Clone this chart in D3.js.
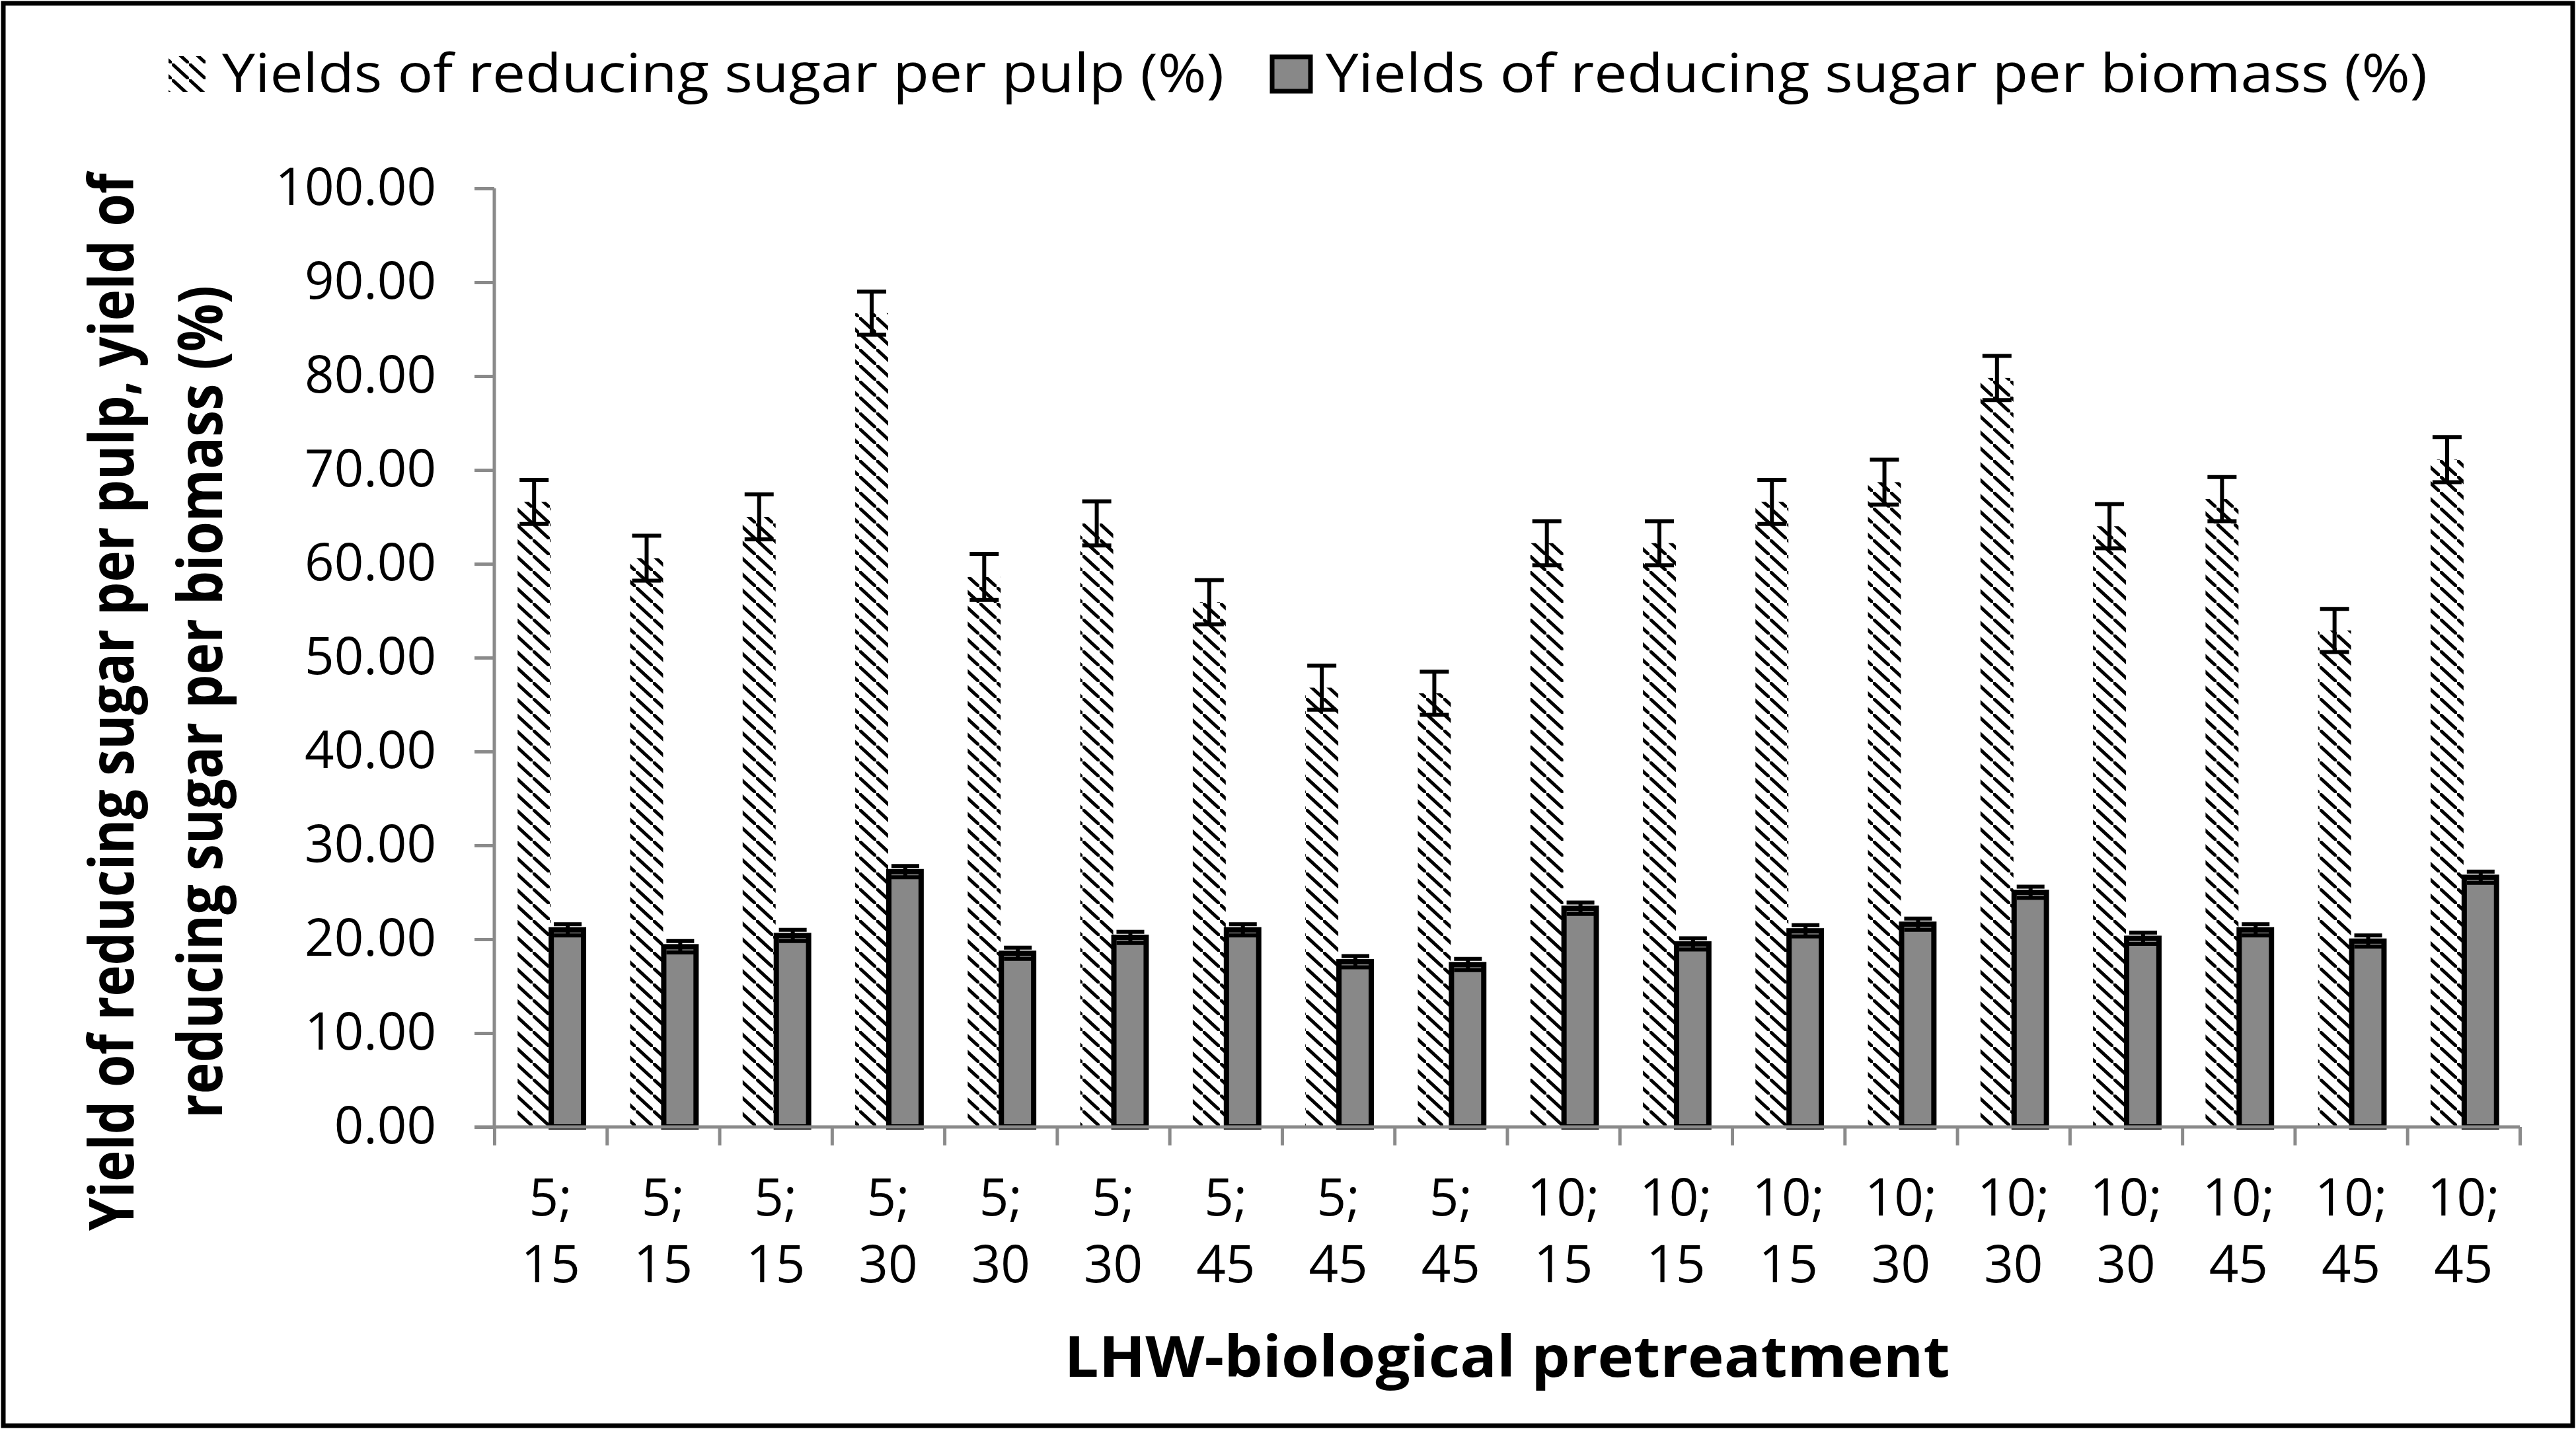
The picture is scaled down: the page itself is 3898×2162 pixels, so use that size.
<!DOCTYPE html>
<html>
<head>
<meta charset="utf-8">
<script src="https://cdn.jsdelivr.net/npm/d3@7"></script>
<style>
  html, body { margin: 0; padding: 0; background: #fff; }
  svg { display: block; }
</style>
</head>
<body>
<script>
// ---------------- data ----------------
const categories = ["5; 15","5; 15","5; 15","5; 30","5; 30","5; 30","5; 45","5; 45","5; 45",
                    "10; 15","10; 15","10; 15","10; 30","10; 30","10; 30","10; 45","10; 45","10; 45"];
const pulpYield    = [66.6, 60.6, 65.0, 86.7, 58.6, 64.3, 55.9, 46.8, 46.2, 62.2, 62.2, 66.6, 68.7, 79.8, 64.0, 66.9, 52.9, 71.1];
const pulpErr      = [2.35, 2.4, 2.4, 2.3, 2.45, 2.35, 2.35, 2.35, 2.3, 2.35, 2.35, 2.35, 2.4, 2.35, 2.35, 2.35, 2.3, 2.4];
const biomassYield = [21.0, 19.2, 20.4, 27.2, 18.5, 20.2, 21.0, 17.6, 17.3, 23.3, 19.5, 20.9, 21.6, 25.0, 20.1, 21.0, 19.8, 26.6];
const biomassErr   = [0.6, 0.6, 0.6, 0.6, 0.6, 0.6, 0.6, 0.6, 0.6, 0.6, 0.6, 0.6, 0.6, 0.6, 0.6, 0.6, 0.6, 0.6];
const yTicks = [0, 10, 20, 30, 40, 50, 60, 70, 80, 90, 100];
const seriesNames = ["Yields of reducing sugar per pulp (%)", "Yields of reducing sugar per biomass (%)"];
const xTitle = "LHW-biological pretreatment";
const yTitleLines = ["Yield of reducing sugar per pulp, yield of", "reducing sugar per biomass (%)"];

// ---------------- layout ----------------
const W = 3898, H = 2162;
const plot = { left: 748, right: 3813, top: 285, bottom: 1705 };
const axisColor = "#8a8a8a";
const grayFill = "#888888";
const fontReg = "'Open Sans', 'DejaVu Sans', sans-serif";

const svg = d3.select("body").append("svg")
  .attr("width", W).attr("height", H)
  .attr("viewBox", `0 0 ${W} ${H}`);

// hatch pattern: dashed downward diagonals
const defs = svg.append("defs");
const pat = defs.append("pattern")
  .attr("id", "hatch").attr("patternUnits", "userSpaceOnUse")
  .attr("width", 26).attr("height", 24);
pat.append("rect").attr("width", 26).attr("height", 24).attr("fill", "#fff");
pat.append("line")
  .attr("x1", 0).attr("y1", 0).attr("x2", 26).attr("y2", 24)
  .attr("stroke", "#000").attr("stroke-width", 5)
  .attr("stroke-dasharray", "6.4,2.45").attr("stroke-linecap", "square");

// background + frame
svg.append("rect").attr("x", 0).attr("y", 0).attr("width", W).attr("height", H).attr("fill", "#fff");
svg.append("rect").attr("x", 5).attr("y", 5).attr("width", W - 10).attr("height", H - 10)
  .attr("fill", "none").attr("stroke", "#000").attr("stroke-width", 7);

// scales
const y = d3.scaleLinear().domain([0, 100]).range([plot.bottom, plot.top]);
const xCat = d3.scaleBand().domain(d3.range(categories.length)).range([plot.left, plot.right]).padding(0);
const xEdge = d3.scaleLinear().domain([0, categories.length]).range([plot.left, plot.right]);
const bw = xCat.bandwidth() * 0.293;
const cx = i => xCat(i) + xCat.bandwidth() / 2;

const g = svg.append("g");

// pulp bars (hatched)
g.selectAll("rect.pulp").data(pulpYield).join("rect")
  .attr("class", "pulp")
  .attr("x", (d, i) => cx(i) - bw)
  .attr("y", d => y(d))
  .attr("width", bw)
  .attr("height", d => y(0) - y(d))
  .attr("fill", "url(#hatch)");

// biomass bars (gray, black border)
const sw = 8;
g.selectAll("rect.bio").data(biomassYield).join("rect")
  .attr("class", "bio")
  .attr("x", (d, i) => cx(i) + 1)
  .attr("y", d => y(d))
  .attr("width", bw - 1)
  .attr("height", d => y(0) - y(d))
  .attr("fill", grayFill).attr("stroke", "#000").attr("stroke-width", sw);

// error bars
function errorBars(vals, errs, offset, capW, cls) {
  const eg = g.selectAll("g." + cls).data(vals).join("g").attr("class", cls)
    .attr("stroke", "#000").attr("stroke-width", 6);
  eg.append("line")
    .attr("x1", (d, i) => cx(i) + offset)
    .attr("x2", (d, i) => cx(i) + offset)
    .attr("y1", (d, i) => y(d + errs[i]))
    .attr("y2", (d, i) => y(d - errs[i]));
  [1, -1].forEach(s => {
    eg.append("line")
      .attr("x1", (d, i) => cx(i) + offset - capW / 2)
      .attr("x2", (d, i) => cx(i) + offset + capW / 2)
      .attr("y1", (d, i) => y(d + s * errs[i]))
      .attr("y2", (d, i) => y(d + s * errs[i]));
  });
}
errorBars(pulpYield, pulpErr, -bw / 2, 44, "perr");
errorBars(biomassYield, biomassErr, bw / 2 + 1, 42, "berr");

// y axis
const yAxis = svg.append("g").attr("transform", `translate(${plot.left},0)`)
  .call(d3.axisLeft(y).tickValues(yTicks).tickFormat(d3.format(".2f")).tickSize(30).tickPadding(58));
yAxis.select(".domain").attr("stroke", axisColor).attr("stroke-width", 5)
  .attr("d", `M0,${plot.top}V${plot.bottom}`);
yAxis.selectAll(".tick line").attr("stroke", axisColor).attr("stroke-width", 5);
yAxis.selectAll(".tick text").attr("font-family", fontReg).attr("font-size", 78).attr("fill", "#000");

// x axis (ticks at category boundaries)
const xAxis = svg.append("g").attr("transform", `translate(0,${plot.bottom})`)
  .call(d3.axisBottom(xEdge).tickValues(d3.range(categories.length + 1)).tickFormat("").tickSize(28));
xAxis.select(".domain").attr("stroke", axisColor).attr("stroke-width", 5)
  .attr("d", `M${plot.left - 30},0H${plot.right}`);
xAxis.selectAll(".tick line").attr("stroke", axisColor).attr("stroke-width", 5);

// category labels (two lines)
const lab = svg.append("g").selectAll("text").data(categories).join("text")
  .attr("font-family", fontReg).attr("font-size", 78).attr("fill", "#000")
  .attr("text-anchor", "middle");
lab.each(function (d, i) {
  const parts = d.split(" ");
  d3.select(this).append("tspan").attr("x", cx(i)).attr("y", 1839).text(parts[0]);
  d3.select(this).append("tspan").attr("x", cx(i)).attr("y", 1940).text(parts[1]);
});

// x title
svg.append("text")
  .attr("x", (plot.left + plot.right) / 2).attr("y", 2083)
  .attr("text-anchor", "middle")
  .attr("font-family", fontReg).attr("font-weight", 700).attr("font-size", 86)
  .attr("textLength", 1340).attr("lengthAdjust", "spacingAndGlyphs")
  .text(xTitle);

// y title (two rotated lines, horizontally condensed via scale)
const yTitlePos = [{ x: 202, len: 1600 }, { x: 336, len: 1260 }];
yTitleLines.forEach((t, i) => {
  const txt = svg.append("text")
    .attr("text-anchor", "middle")
    .attr("font-family", fontReg).attr("font-weight", 700).attr("font-size", 94)
    .text(t);
  const natural = txt.node().getComputedTextLength() || yTitlePos[i].len;
  const k = yTitlePos[i].len / natural;
  txt.attr("transform", `translate(${yTitlePos[i].x},1062) rotate(-90) scale(${k},1)`);
});

// legend
const leg = svg.append("g");
leg.append("rect").attr("x", 255).attr("y", 85).attr("width", 56).attr("height", 54).attr("fill", "url(#hatch)");
leg.append("text").attr("x", 336).attr("y", 139)
  .attr("font-family", fontReg).attr("font-size", 80)
  .attr("textLength", 1516).attr("lengthAdjust", "spacingAndGlyphs")
  .text(seriesNames[0]);
leg.append("rect").attr("x", 1925).attr("y", 86).attr("width", 58).attr("height", 52)
  .attr("fill", grayFill).attr("stroke", "#000").attr("stroke-width", 7);
leg.append("text").attr("x", 2006).attr("y", 139)
  .attr("font-family", fontReg).attr("font-size", 80)
  .attr("textLength", 1667).attr("lengthAdjust", "spacingAndGlyphs")
  .text(seriesNames[1]);
</script>
</body>
</html>
